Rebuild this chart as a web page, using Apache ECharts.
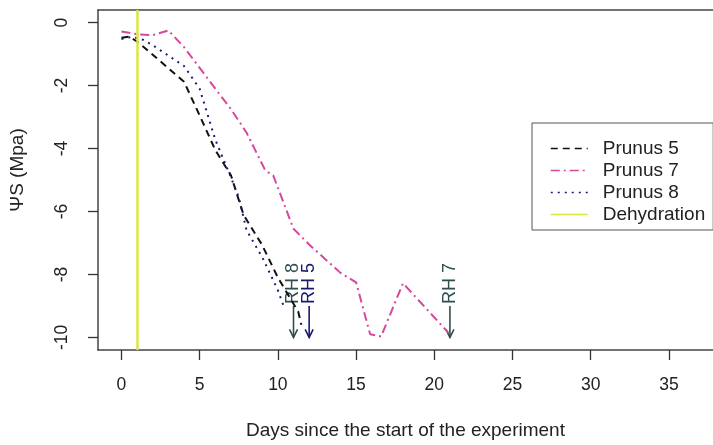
<!DOCTYPE html>
<html><head><meta charset="utf-8">
<script src="https://cdn.jsdelivr.net/npm/echarts@6/dist/echarts.min.js"></script>
<style>html,body{margin:0;padding:0;background:#fff}#c{width:713px;height:445px}</style>
</head><body><div id="c"></div>
<script>
const xTicks = [0, 5, 10, 15, 20, 25, 30, 35];
const yTicks = [0, -2, -4, -6, -8, -10];
const prunus5 = [[0,-0.48],[0.5,-0.45],[1,-0.6],[2,-1.02],[3,-1.45],[4,-1.88],[5,-2.95],[6,-4.05],[7,-4.85],[7.8,-6.1],[9,-7.07],[10,-8.1],[11.3,-9.18],[11.5,-9.6]];
const prunus7 = [[0,-0.28],[1,-0.37],[2,-0.4],[3,-0.25],[4,-0.78],[5,-1.44],[6,-2.1],[7,-2.75],[8,-3.5],[9.2,-4.7],[9.7,-4.85],[11,-6.55],[12,-7.05],[13,-7.5],[14,-7.95],[15,-8.25],[15.9,-9.9],[16.6,-9.97],[18,-8.28],[20.9,-9.85]];
const prunus8 = [[0,-0.52],[0.7,-0.45],[1.4,-0.55],[2,-0.72],[3,-1.05],[4,-1.38],[5,-2.1],[6,-3.72],[7,-4.92],[7.5,-5.55],[8,-6.6],[9,-7.45],[10,-8.5],[10.4,-9.05]];
const dehydrationDay = 1;
const rhDays = [11, 12, 21];
const rhLabels = ['RH 8', 'RH 5', 'RH 7'];
const rhTop = -9.0;
const rhBottom = -10;
const rhColors = ['#2F4F4F', '#191970', '#2F4F4F'];

const FONT = "'Liberation Sans', Arial, sans-serif";
const chart = echarts.init(document.getElementById('c'), null, {renderer: 'canvas'});
const boxLine = {show: true, onZero: false, lineStyle: {color: '#444', width: 1.5}};
chart.setOption({
  animation: false,
  backgroundColor: '#fff',
  grid: {left: 98, top: 10, width: 615, height: 342, show: false},
  xAxis: [{
    type: 'value', min: -1.5, max: 37.82, position: 'bottom',
    axisLine: boxLine,
    splitLine: {show: false},
    axisTick: {show: true, customValues: xTicks, length: 10, lineStyle: {color: '#333', width: 1.3}},
    axisLabel: {customValues: xTicks, fontSize: 17.5, fontFamily: FONT, color: '#222', margin: 26},
    name: 'Days since the start of the experiment', nameLocation: 'middle', nameGap: 71,
    nameTextStyle: {fontSize: 19, fontFamily: FONT, color: '#222'}
  }, {
    type: 'value', min: -1.5, max: 37.82, position: 'top',
    axisLine: boxLine, splitLine: {show: false}, axisTick: {show: false}, axisLabel: {show: false}
  }],
  yAxis: {
    type: 'value', min: -10.4, max: 0.4,
    axisLine: boxLine,
    splitLine: {show: false},
    axisTick: {show: true, customValues: yTicks, length: 10, lineStyle: {color: '#333', width: 1.3}},
    axisLabel: {customValues: yTicks, rotate: 90, fontSize: 17.5, fontFamily: FONT, color: '#222', margin: 27},
    name: 'ΨS (Mpa)', nameLocation: 'middle', nameGap: 71,
    nameTextStyle: {fontSize: 19, fontFamily: FONT, color: '#222', padding: [0, 0, 0, 20]}
  },
  legend: {
    orient: 'vertical', left: 532, top: 123,
    data: ['Prunus 5', 'Prunus 7', 'Prunus 8', 'Dehydration'],
    itemWidth: 37, itemHeight: 14, itemGap: 3,
    padding: [16, 8, 6, 18],
    borderColor: '#555', borderWidth: 1, backgroundColor: '#fff',
    lineStyle: {width: 1.5},
    itemStyle: {opacity: 0},
    textStyle: {fontSize: 19, fontFamily: FONT, color: '#222', padding: [0, 0, 0, 10]}
  },
  series: [
    {name: 'Prunus 5', type: 'line', data: prunus5, symbol: 'none', lineStyle: {color: '#111', width: 2, type: [7, 5]}, itemStyle: {color: '#111'}},
    {name: 'Prunus 7', type: 'line', data: prunus7, symbol: 'none', lineStyle: {color: '#d6489c', width: 2, type: [9, 4, 2, 4]}, itemStyle: {color: '#d6489c'}},
    {name: 'Prunus 8', type: 'line', data: prunus8, symbol: 'none', lineStyle: {color: '#1a1a78', width: 2, type: [2, 5]}, itemStyle: {color: '#1a1a78'}},
    {name: 'Dehydration', type: 'line', data: [], symbol: 'none', lineStyle: {color: '#d8e644', width: 2.5}, itemStyle: {color: '#d8e644'},
      markLine: {silent: true, symbol: 'none', label: {show: false}, lineStyle: {color: '#d8e644', width: 2.5, type: 'solid'}, data: [{xAxis: dehydrationDay}]}},
    {name: 'RH', type: 'custom', data: rhDays.map(d => [d, rhTop, rhBottom]), silent: true,
      renderItem: function (params, api) {
        const x = api.value(0);
        const p0 = api.coord([x, api.value(1)]);
        const p1 = api.coord([x, api.value(2)]);
        const c = rhColors[params.dataIndex];
        return {type: 'group', children: [
          {type: 'line', shape: {x1: p0[0], y1: p0[1], x2: p1[0], y2: p1[1]}, style: {stroke: c, lineWidth: 1.6}},
          {type: 'polyline', shape: {points: [[p1[0] - 4, p1[1] - 8], [p1[0], p1[1]], [p1[0] + 4, p1[1] - 8]]}, style: {stroke: c, lineWidth: 1.6, fill: null}},
          {type: 'text', x: p0[0], y: p0[1] - 2, rotation: Math.PI / 2,
            style: {text: rhLabels[params.dataIndex], fill: c, fontSize: 18, fontFamily: FONT, align: 'left', verticalAlign: 'middle'}}
        ]};
      }
    }
  ]
});
</script></body></html>
